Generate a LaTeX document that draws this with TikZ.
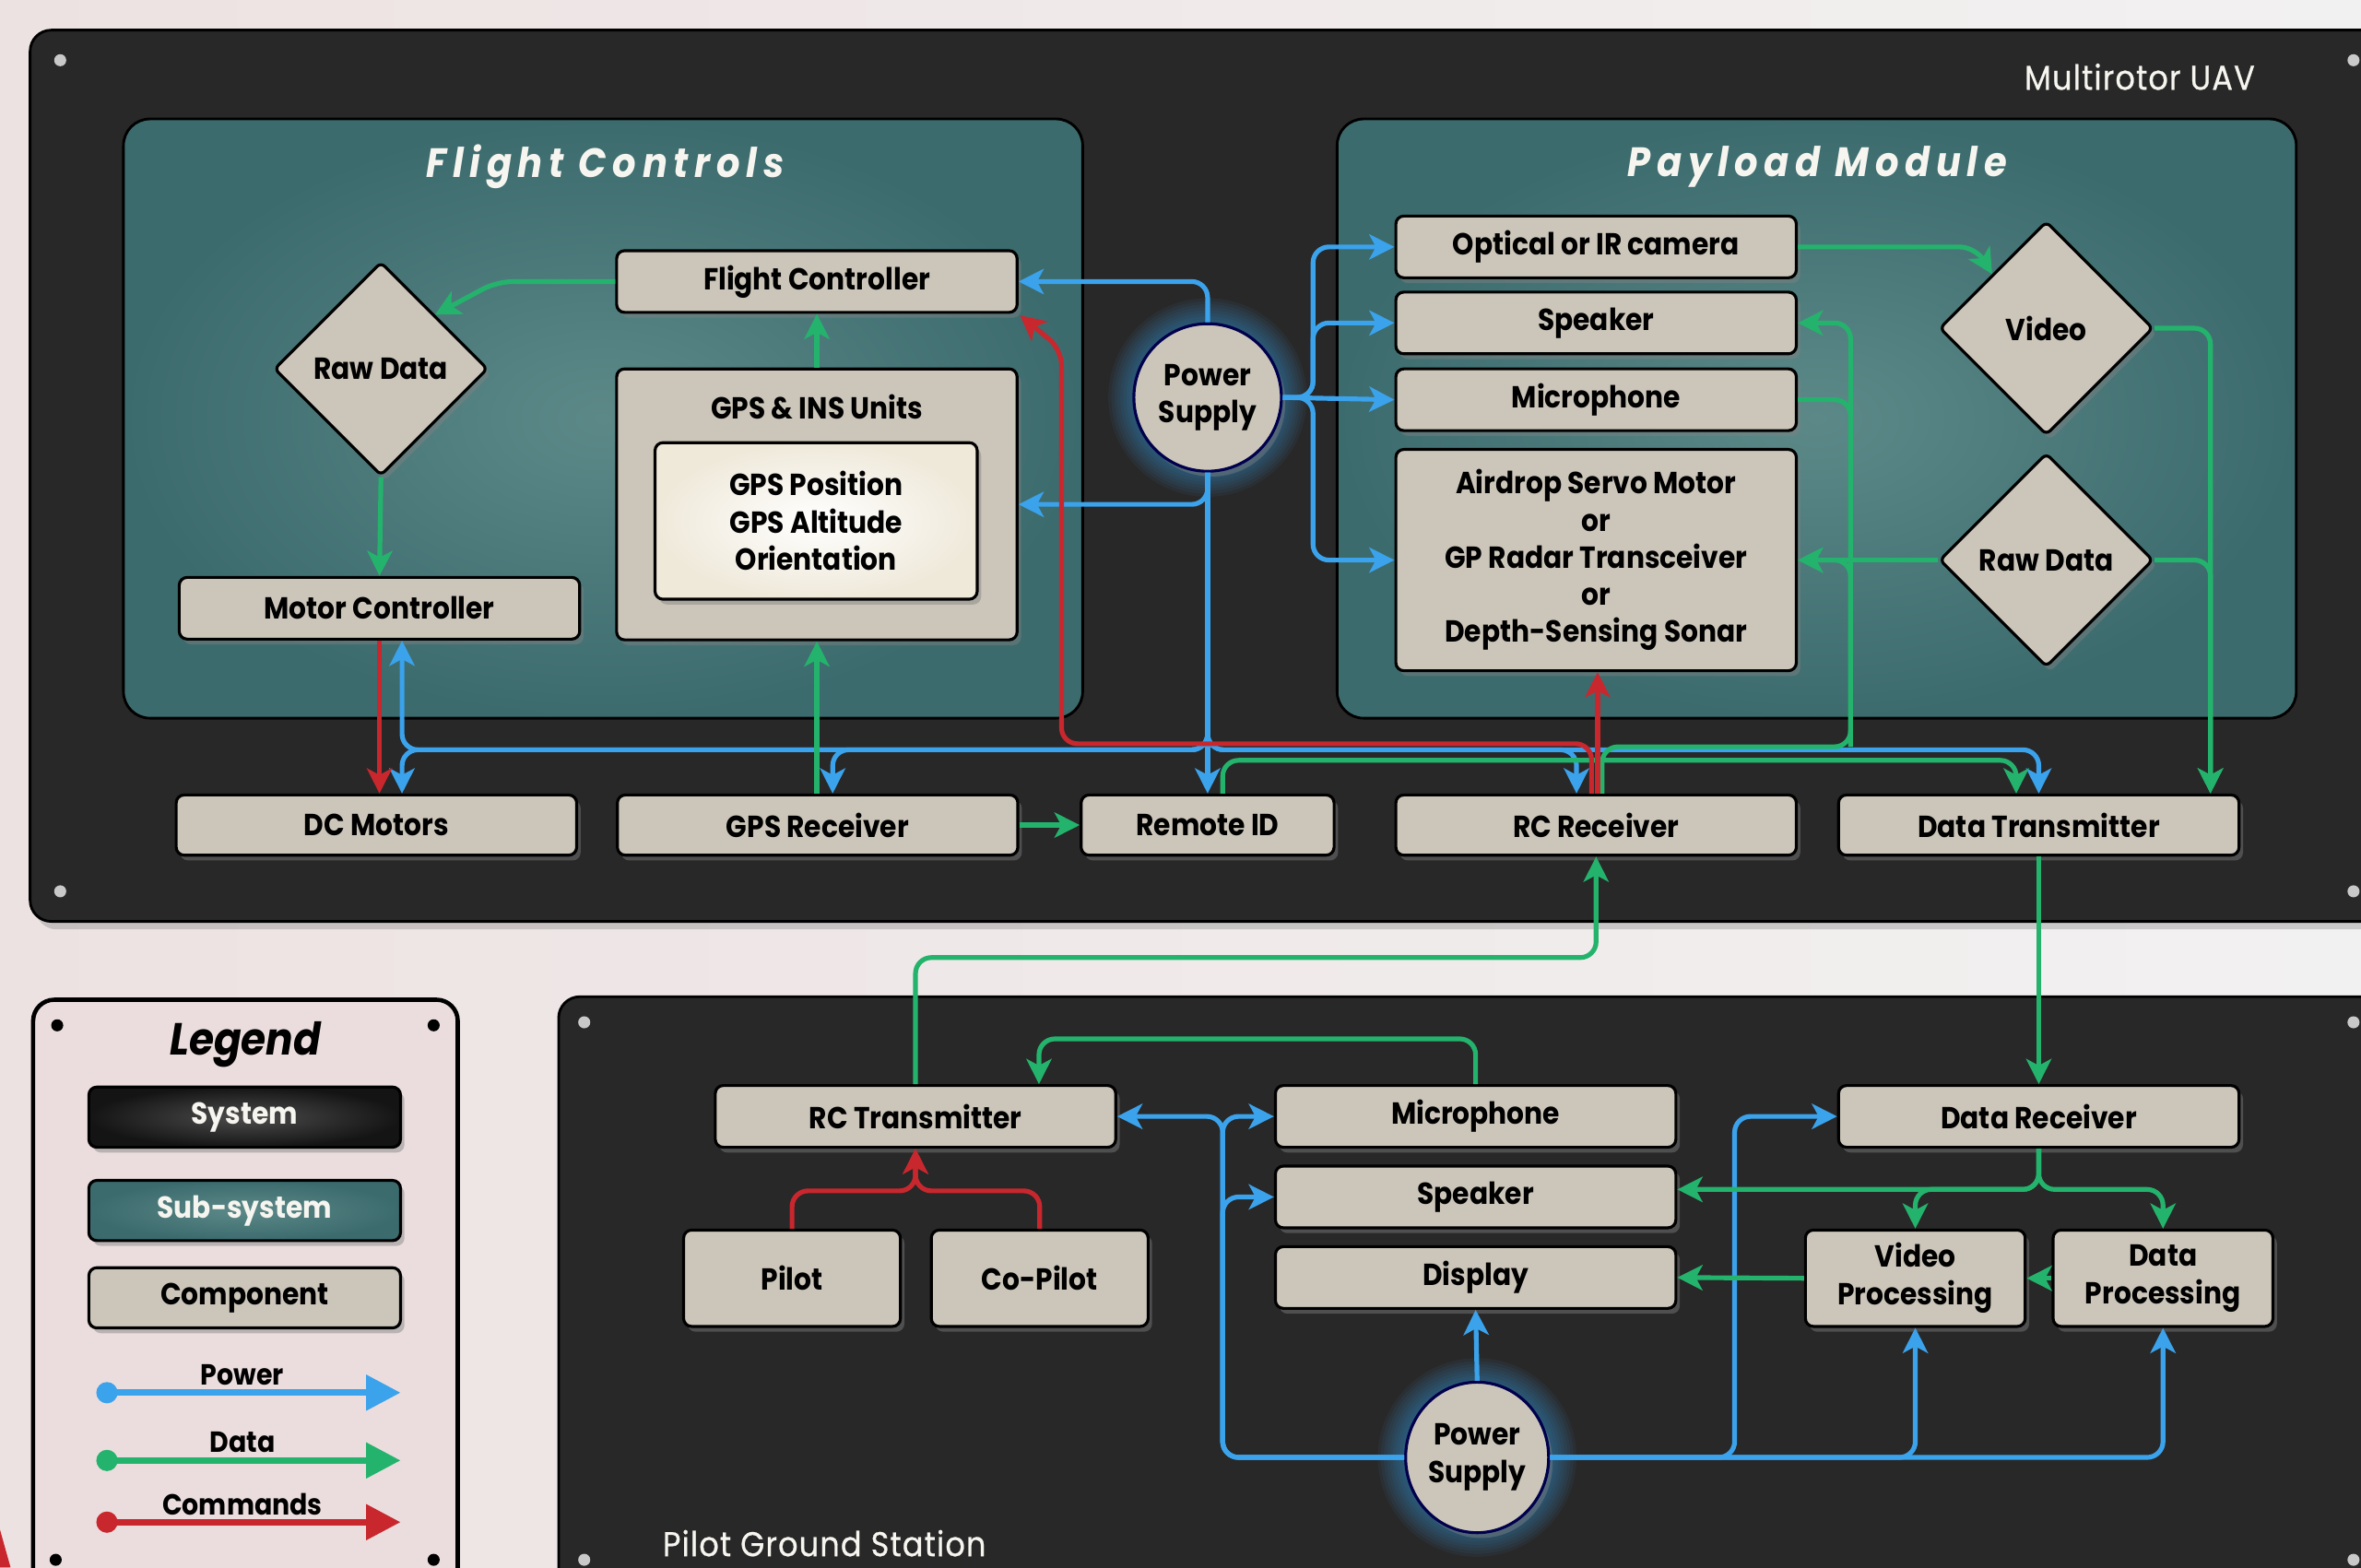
\documentclass[tikz,border=0pt]{standalone}
\usepackage{fontspec}
\setmainfont{Poppins}[FakeStretch=0.9]
\usepackage{xcolor}
\usepackage{tikz}
\usetikzlibrary{arrows.meta,shapes.geometric,shadows,calc}

\definecolor{bgl}{HTML}{EDE2E2}
\definecolor{bgr}{HTML}{F2F1F1}
\definecolor{sysdark}{HTML}{282828}
\definecolor{tealin}{HTML}{5C8988}
\definecolor{tealout}{HTML}{3C6B6E}
\definecolor{compfill}{HTML}{CCC6BA}
\definecolor{legfill}{HTML}{EBDDDD}
\definecolor{screwc}{HTML}{C9C9C9}
\definecolor{titlewhite}{HTML}{F7F5EF}
\definecolor{pwrblue}{HTML}{3BA2EC}
\definecolor{datgreen}{HTML}{24B36C}
\definecolor{cmdred}{HTML}{C8272D}
\definecolor{innerout}{HTML}{EFE9DA}

\newcommand\compfont{\fontsize{11.5}{14.2}\selectfont\bfseries}
\newcommand\subtitlefont{\fontsize{15.5}{18}\selectfont\bfseries\itshape\addfontfeature{LetterSpace=15}}
\newcommand\systitlefont{\fontsize{13}{16}\selectfont\addfontfeature{LetterSpace=3,FakeBold=0.6}}
\newcommand\legheadfont{\fontsize{17}{20}\selectfont\bfseries\itshape}
\newcommand\legfont{\fontsize{11}{13}\selectfont\bfseries}

\tikzset{
  comp/.style={draw=black, line width=1.1pt, fill=compfill, rounded corners=3pt,
    minimum width=5.32cm, minimum height=0.82cm, inner sep=0pt, align=center,
    font=\compfont, text=black,
    drop shadow={shadow xshift=1.5pt, shadow yshift=-2pt, opacity=0.45}},
  dia/.style={comp, diamond, aspect=1, minimum width=2.84cm, minimum height=2.84cm, rounded corners=2pt},
  supply/.style={comp, ellipse, draw=black!70!blue, minimum width=1.96cm, minimum height=1.96cm},
  sysp/.style={fill=sysdark, draw=black, line width=1pt, rounded corners=8pt,
    drop shadow={shadow xshift=2pt, shadow yshift=-3pt, opacity=0.35}},
  subp/.style={inner color=tealin, outer color=tealout, draw=black, line width=1pt, rounded corners=10pt},
  legp/.style={fill=legfill, draw=black, line width=1.6pt, rounded corners=8pt},
  subtitle/.style={text=titlewhite, font=\subtitlefont},
  systitle/.style={text=titlewhite, font=\systitlefont},
  pwr/.style={draw=pwrblue, line width=1.8pt, rounded corners=6pt,
    -{Stealth[length=9.5pt,width=9.5pt,inset=2.5pt]}},
  dat/.style={pwr, draw=datgreen},
  datl/.style={dat, -},
  cmd/.style={pwr, draw=cmdred},
  glow/.style={fill=pwrblue, opacity=0.06},
  legbox/.style={comp, minimum width=4.14cm, minimum height=0.8cm},
  legarrow/.style={line width=2.5pt, {Circle[length=8pt]}-{Triangle[length=13pt,width=13pt]}},
  legtext/.style={font=\legfont, text=black}
}

\begin{document}
\begin{tikzpicture}[x=0.02cm, y=-0.02cm]
  \clip (0,0) rectangle (1568,1041);
  \fill[left color=bgl, right color=bgr] (0,0) rectangle (1568,1041);
  \fill[cmdred] (0,1016) -- (7,1041) -- (0,1041) -- cycle;

  % panels
  \draw[sysp] (20,20) rectangle (1610,612);
  \draw[sysp] (371,662) rectangle (1610,1080);
  \draw[legp] (22,664) rectangle (304,1070);
  \foreach \sx/\sy in {40/40, 40/592, 1563/40, 1563/592, 388/679, 388/1036, 1563/679, 1563/1036}
    \fill[screwc] (\sx,\sy) circle[radius=4];
  \foreach \sx/\sy in {38/681, 288/681, 37/1036, 288/1036}
    \fill[black] (\sx,\sy) circle[radius=4];
  \draw[subp] (82,79) rectangle (719,477);
  \draw[subp] (888,79) rectangle (1525,477);

  % titles
  \node[systitle] (uavtitle) at (1421,51) {Multirotor UAV};
  \node[systitle, anchor=west] (pgstitle) at (434,1025) {Pilot Ground Station};
  \node[subtitle] (fctitle) at (402,111) {Flight Controls};
  \node[subtitle] (pmtitle) at (1207,111) {Payload Module};

  %% UAV
  \foreach \r in {66,64,...,50}
    \fill[glow] (802,264) circle[radius=\r];
  \node[supply] (ps1) at (802,264) {Power\\Supply};

  \node[comp] (fc) at (542.5,187) {Flight Controller};
  \node[dia] (rd1) at (253,245) {Raw Data};
  \node[comp, minimum height=3.6cm] (gins) at (542.5,335) {};
  \node[font=\compfont] (ginslabel) at (542.5,270) {GPS \& INS Units};
  \node[comp, inner color=white, outer color=innerout, minimum width=4.28cm, minimum height=2.08cm] (gpos) at (542,346)
    {GPS Position\\GPS Altitude\\Orientation};
  \node[comp] (mc) at (252,404) {Motor Controller};

  \node[comp] (cam) at (1060,164) {Optical or IR camera};
  \node[comp] (spk) at (1060,214.5) {Speaker};
  \node[comp] (mic) at (1060,265.5) {Microphone};
  \node[comp, minimum height=2.94cm, font=\fontsize{11.5}{14}\selectfont\bfseries] (air) at (1060,372)
    {Airdrop Servo Motor\\or\\GP Radar Transceiver\\or\\Depth-Sensing Sonar};
  \node[dia] (vid) at (1359,218) {Video};
  \node[dia] (rd2) at (1359,372) {Raw Data};

  \node[comp, minimum height=0.8cm] (dcm) at (250,548) {DC Motors};
  \node[comp, minimum height=0.8cm] (grx) at (543,548) {GPS Receiver};
  \node[comp, minimum height=0.8cm, minimum width=3.36cm] (rid) at (802,548) {Remote ID};
  \node[comp, minimum height=0.8cm] (rcr) at (1060,548) {RC Receiver};
  \node[comp, minimum height=0.8cm] (dtx) at (1354,548) {Data Transmitter};

  %% ground station
  \foreach \r in {66,64,...,50}
    \fill[glow] (981,968) circle[radius=\r];
  \node[supply, minimum width=1.9cm, minimum height=2cm] (ps2) at (981,968) {Power\\Supply};

  \node[comp] (rct) at (608,741.5) {RC Transmitter};
  \node[comp] (gmic) at (980,741.5) {Microphone};
  \node[comp] (gspk) at (980,795) {Speaker};
  \node[comp] (gdis) at (980,848.5) {Display};
  \node[comp] (drx) at (1354,741.5) {Data Receiver};
  \node[comp, minimum width=2.88cm, minimum height=1.28cm] (pil) at (526,849) {Pilot};
  \node[comp, minimum width=2.88cm, minimum height=1.28cm] (cpl) at (690.5,849) {Co-Pilot};
  \node[comp, minimum width=2.92cm, minimum height=1.28cm] (vpr) at (1272,849) {Video\\Processing};
  \node[comp, minimum width=2.92cm, minimum height=1.28cm] (dpr) at (1436.5,849) {Data\\Processing};

  % power
  \coordinate (pj) at (872,264);
  \coordinate (pbus) at (0,498);
  \draw[pwr] (ps1.north) |- (fc.east);
  \draw[pwr] (ps1.south) |- (gins.east);
  \draw[pwr] (ps1.south) -- (ps1.south |- rid.north);
  \draw[pwr] (ps1.east) -- (pj) |- (cam.west);
  \draw[pwr] (ps1.east) -- (pj) |- (spk.west);
  \draw[pwr] (ps1.east) -- (mic.west);
  \draw[pwr] (ps1.east) -- (pj) |- (air.west);
  \draw[pwr] (ps1.south) |- ($(pbus -| mc.south)+(15,0)$) -- ($(mc.south)+(15,0)$);
  \draw[pwr] (ps1.south) |- ($(pbus -| dcm.north)+(17,0)$) -- ($(dcm.north)+(17,0)$);
  \draw[pwr] (ps1.south) |- ($(pbus -| grx.north)+(10,0)$) -- ($(grx.north)+(10,0)$);
  \draw[pwr] (ps1.south) |- ($(pbus -| rcr.north)+(-13,0)$) -- ($(rcr.north)+(-13,0)$);
  \draw[pwr] (ps1.south) |- (pbus -| dtx.north) -- (dtx.north);

  \coordinate (bJ) at (812,741);
  \coordinate (bK) at (1152,741);
  \draw[pwr] (ps2.west) -| (rct.east -| bJ) -- (rct.east);
  \draw[pwr] (ps2.west) -| (gmic.west -| bJ) -- (gmic.west);
  \draw[pwr] (ps2.west) -| (gspk.west -| bJ) -- (gspk.west);
  \draw[pwr] (ps2.north) -- (gdis.south);
  \draw[pwr] (ps2.east) -| (dpr.south);
  \draw[pwr] (ps2.east) -| (vpr.south);
  \draw[pwr] (ps2.east) -| (drx.west -| bK) -- (drx.west);

  % data
  \coordinate (gA) at (330,187);
  \coordinate (gB) at (1000,505);
  \coordinate (gC) at (1229,496);
  \coordinate (gD) at (1312,164);
  \coordinate (gE) at (800,636);
  \coordinate (gF) at (850,690);
  \coordinate (gG) at (1354,790);
  \draw[dat] (fc.west) -- (gA) -- (rd1.north east);
  \draw[dat] (rd1.south) -- (mc.north);
  \draw[dat] (gins.north) -- (fc.south);
  \draw[dat] (grx.north -| gins.south) -- (gins.south);
  \draw[dat] (grx.east) -- (rid.west);
  \draw[dat] ($(rid.north)+(10,0)$) |- (gB) -| ($(dtx.north)+(-15,0)$);
  \draw[dat] ($(rcr.north)+(4,0)$) |- (gC) |- (spk.east);
  \draw[datl] (mic.east) -| (gC);
  \draw[dat] (gC) |- (air.east);
  \draw[dat] (rd2.west) -- (air.east);
  \draw[dat] (cam.east) -- (gD) -- (vid.north west);
  \draw[dat] (vid.east) -| ($(dtx.north)+(114,0)$);
  \draw[dat] (rd2.east) -| ($(dtx.north)+(114,0)$);
  \draw[dat] (dtx.south) -- (drx.north);
  \draw[dat] (rct.north) |- (gE) -| (rcr.south);
  \draw[dat] (gmic.north) |- (gF) -| ($(rct.north)+(82,0)$);
  \draw[dat] (drx.south) |- ($(gspk.east)+(0,-5)$);
  \draw[dat] (drx.south) |- (gG -| vpr.north) -- (vpr.north);
  \draw[dat] (drx.south) |- (gG -| dpr.north) -- (dpr.north);
  \draw[dat] (vpr.west) -- (gdis.east);
  \draw[dat] (dpr.west) -- (vpr.east);

  % commands
  \coordinate (cA) at (705,494);
  \coordinate (cB) at (705,232);
  \draw[cmd] (mc.south) -- (mc.south |- dcm.north);
  \draw[cmd] ($(rcr.north)+(-3,0)$) |- (cA) -- (cB) -- ($(fc.south east)+(1,1)$);
  \draw[cmd] ($(rcr.north)+(1,0)$) -- ($(air.south)+(1,0)$);
  \draw[cmd] (pil.north) |- ($(rct.south)+(0,28)$) -- (rct.south);
  \draw[cmd] (cpl.north) |- ($(rct.south)+(0,28)$) -- (rct.south);

  %% legend
  \node[font=\legheadfont] (legtitle) at (163,694) {Legend};
  \node[legbox, inner color=black!70, outer color=black!92, text=titlewhite] (lsys) at (162.5,742) {System};
  \node[legbox, inner color=tealin, outer color=tealout, text=titlewhite] (lsub) at (162.5,804) {Sub-system};
  \node[legbox] (lcmp) at (162.5,862) {Component};
  \coordinate (lpa) at (64,925);
  \coordinate (lpb) at (266,925);
  \coordinate (lda) at (64,970);
  \coordinate (ldb) at (266,970);
  \coordinate (lca) at (64,1011);
  \coordinate (lcb) at (266,1011);
  \draw[legarrow, pwrblue] (lpa) -- (lpb);
  \draw[legarrow, datgreen] (lda) -- (ldb);
  \draw[legarrow, cmdred] (lca) -- (lcb);
  \node[legtext] (lpwr) at (161,913) {Power};
  \node[legtext] (ldat) at (161,958) {Data};
  \node[legtext] (lcmd) at (161,999) {Commands};
\end{tikzpicture}
\end{document}
